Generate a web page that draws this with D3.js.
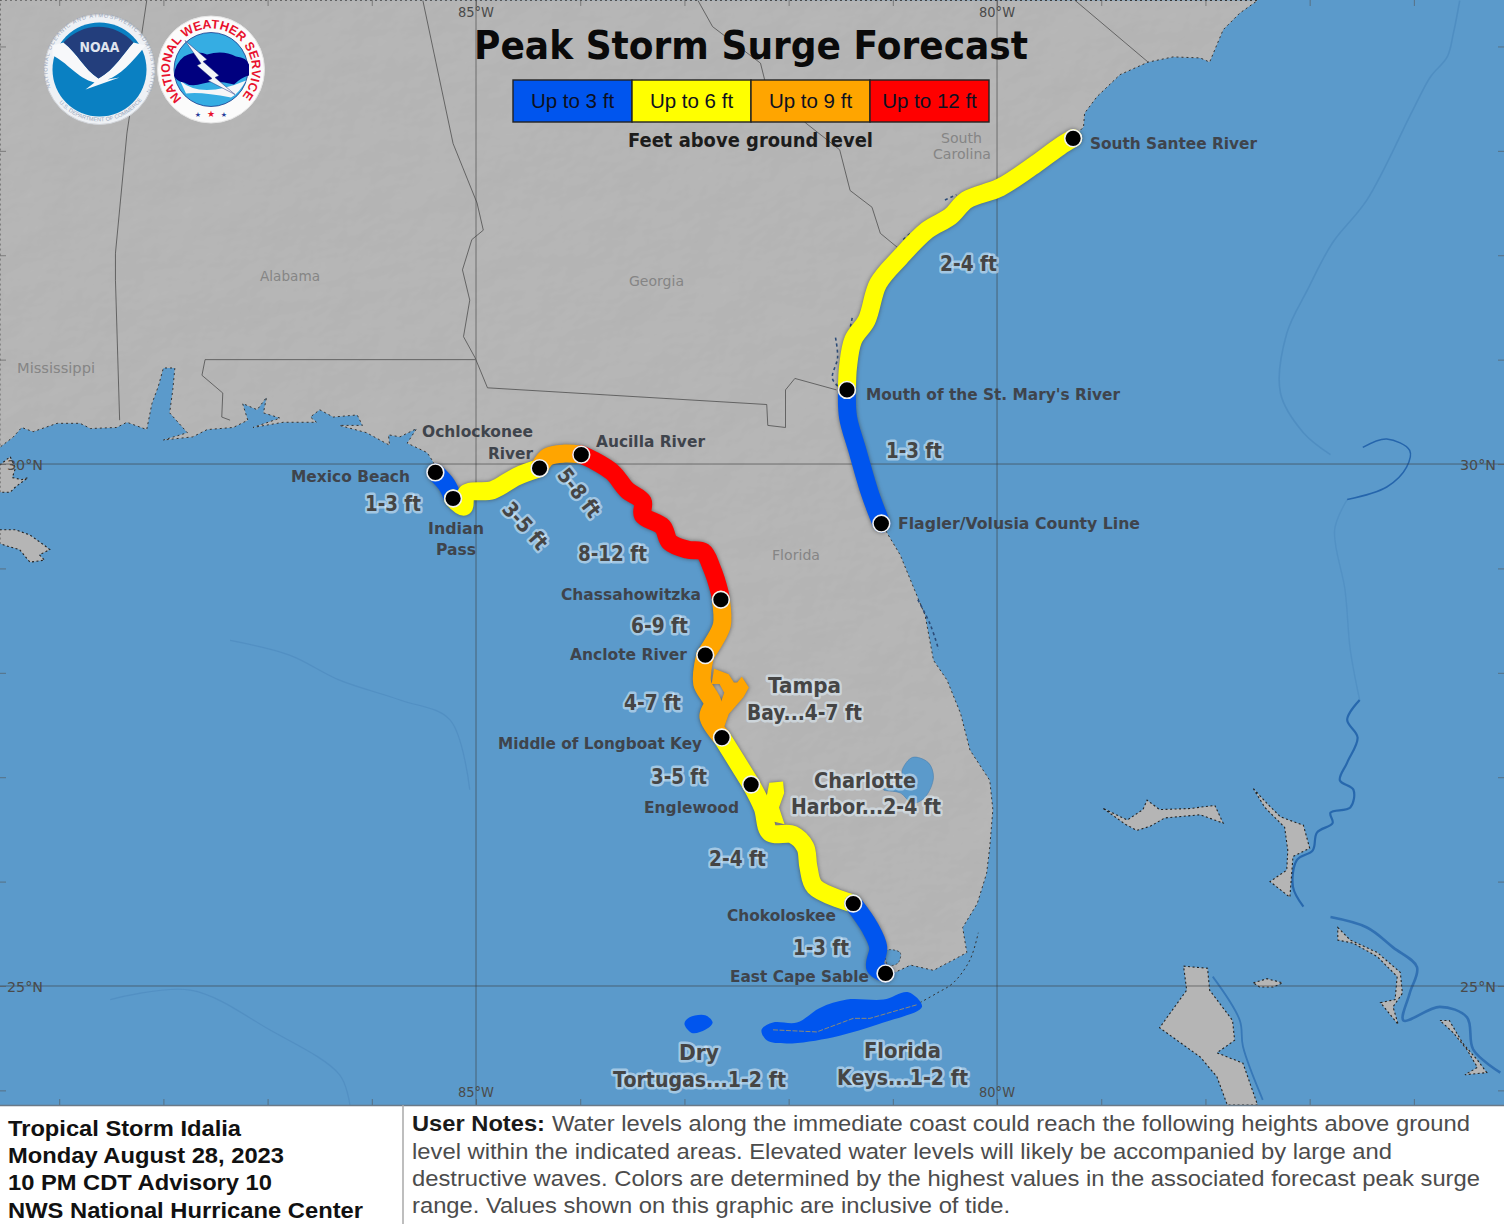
<!DOCTYPE html>
<html><head><meta charset="utf-8">
<script src="https://cdn.jsdelivr.net/npm/d3@7/dist/d3.min.js"></script>
<style>html,body{margin:0;padding:0;background:#fff;overflow:hidden}svg{display:block}</style>
</head><body>
<svg id="c" width="1504" height="1224" xmlns="http://www.w3.org/2000/svg"></svg>
<script>
// ---------- legend categories ----------
const categories = ["Up to 3 ft","Up to 6 ft","Up to 9 ft","Up to 12 ft"];
const categoryColors = ["#0055ee","#ffff00","#ffa500","#ff0000"];
// ---------- surge segments [lon, lat] ----------
const blueEast = [[-81.44,30.71],[-81.43,30.45],[-81.34,30.13],[-81.22,29.72],[-81.11,29.43]];
const yellowEast = [[-81.44,30.71],[-81.43,30.93],[-81.38,31.19],[-81.25,31.38],[-81.14,31.73],[-80.93,31.98],[-80.67,32.24],[-80.45,32.37],[-80.29,32.53],[-79.97,32.65],[-79.62,32.88],[-79.40,33.04],[-79.27,33.12]];
const bluePanhandle = [[-85.39,29.92],[-85.28,29.80],[-85.22,29.67]];
const yellowPanhandle = [[-85.22,29.67],[-85.12,29.59],[-85.09,29.72],[-84.84,29.75],[-84.61,29.88],[-84.39,29.96]];
const orangeBigBend = [[-84.39,29.97],[-84.31,30.07],[-84.15,30.10],[-83.99,30.09]];
const redBigBend = [[-83.99,30.09],[-83.88,30.04],[-83.69,29.92],[-83.55,29.75],[-83.40,29.64],[-83.40,29.51],[-83.21,29.40],[-83.14,29.25],[-82.97,29.18],[-82.82,29.16],[-82.74,29.01],[-82.66,28.76],[-82.65,28.70]];
const orangeNature = [[-82.65,28.70],[-82.64,28.46],[-82.71,28.31],[-82.80,28.17]];
const orangeTampa = [[-82.80,28.17],[-82.83,27.90],[-82.73,27.71],[-82.77,27.58],[-82.64,27.38]];
const yellowSarasota = [[-82.64,27.38],[-82.36,26.93]];
const yellowNaples = [[-82.36,26.93],[-82.25,26.71],[-82.18,26.47],[-81.96,26.45],[-81.84,26.33],[-81.81,26.14],[-81.75,25.95],[-81.38,25.79]];
const blueEverglades = [[-81.38,25.79],[-81.22,25.56],[-81.14,25.37],[-81.17,25.18],[-81.07,25.12]];
const segments = [[blueEast,0],[yellowEast,1],[bluePanhandle,0],[yellowPanhandle,1],[orangeBigBend,2],[redBigBend,3],[orangeNature,2],[orangeTampa,2],[yellowSarasota,1],[yellowNaples,1],[blueEverglades,0]];
// ---------- surge areas ----------
const tampaBay = [[-82.71,28.03],[-82.58,27.98],[-82.53,27.90],[-82.49,27.90],[-82.45,27.95],[-82.39,27.86],[-82.44,27.77],[-82.58,27.61],[-82.63,27.47],[-82.75,27.55],[-82.66,27.67],[-82.61,27.81],[-82.66,27.90],[-82.73,27.90]];
const charlotteHarbor = [[-82.18,26.94],[-82.06,26.95],[-82.05,26.85],[-82.10,26.71],[-82.05,26.56],[-82.18,26.59],[-82.21,26.78]];
const floridaKeys = [[-82.26,24.58],[-82.15,24.65],[-81.92,24.65],[-81.70,24.79],[-81.44,24.87],[-81.09,24.87],[-80.85,24.94],[-80.72,24.80],[-81.09,24.65],[-81.57,24.51],[-82.02,24.45],[-82.21,24.48]];
const dryTortugas = [[-83.00,24.64],[-82.95,24.70],[-82.80,24.72],[-82.73,24.65],[-82.80,24.58],[-82.93,24.55]];
const keysIslands = [[-82.15,24.58],[-81.73,24.56],[-81.38,24.69],[-81.22,24.69],[-80.77,24.82]];
// ---------- breakpoints: location, lon, lat ----------
const breakpoints = [["South Santee River",-79.27,33.12],["Mouth of the St. Mary's River",-81.44,30.71],["Flagler/Volusia County Line",-81.11,29.43],["Mexico Beach",-85.39,29.92],["Indian Pass",-85.22,29.67],["Ochlockonee River",-84.39,29.96],["Aucilla River",-83.99,30.09],["Chassahowitzka",-82.65,28.70],["Anclote River",-82.80,28.17],["Middle of Longboat Key",-82.64,27.38],["Englewood",-82.36,26.93],["Chokoloskee",-81.38,25.79],["East Cape Sable",-81.07,25.12]];
// ---------- coast ----------
const atlanticCoast = [[-77.50,34.44],[-77.67,34.32],[-77.83,34.16],[-77.96,33.85],[-78.05,33.89],[-78.31,33.90],[-78.55,33.85],[-78.82,33.73],[-79.04,33.52],[-79.16,33.36],[-79.17,33.23]];
const floridaEastCoast = [[-80.93,29.13],[-80.79,28.79],[-80.69,28.55],[-80.61,28.12],[-80.48,27.93],[-80.35,27.61],[-80.26,27.26],[-80.07,26.97],[-80.04,26.69],[-80.07,26.33],[-80.10,26.08],[-80.19,25.79],[-80.33,25.56],[-80.29,25.32],[-80.42,25.25],[-80.61,25.15],[-80.83,25.20],[-80.98,25.13]];
const panhandleCoast = [[-85.41,30.02],[-85.47,30.11],[-85.66,30.20],[-85.57,30.34],[-85.73,30.26],[-85.84,30.28],[-85.83,30.18],[-86.05,30.30],[-86.31,30.37],[-86.09,30.37],[-86.14,30.47],[-86.37,30.45],[-86.50,30.52],[-86.59,30.45],[-86.53,30.40],[-86.85,30.40],[-87.14,30.35],[-86.88,30.44],[-87.04,30.49],[-87.01,30.64],[-87.10,30.52],[-87.24,30.58],[-87.19,30.42],[-87.33,30.35],[-87.58,30.33],[-87.72,30.26],[-88.00,30.23],[-87.77,30.30],[-87.94,30.49],[-87.91,30.71],[-87.89,30.92],[-88.00,30.92],[-88.05,30.74],[-88.11,30.58],[-88.16,30.33],[-88.35,30.40],[-88.45,30.35],[-88.70,30.34],[-88.80,30.39],[-89.02,30.39],[-89.25,30.31],[-89.36,30.35],[-89.44,30.26],[-89.57,30.16]];
const lakeOkeechobee = [[-80.91,27.07],[-80.81,27.19],[-80.66,27.14],[-80.61,27.00],[-80.69,26.81],[-80.81,26.75],[-80.93,26.85],[-81.09,26.88],[-80.91,26.95]];
const whitewaterBay = [[-81.06,25.34],[-80.93,25.32],[-80.95,25.22],[-81.05,25.20]];
const upperKeysReef = [[-80.74,24.84],[-80.58,24.93],[-80.42,25.03],[-80.26,25.25],[-80.18,25.51]];
const louisianaMarsh = [[-89.57,29.99],[-89.47,30.07],[-89.42,29.96],[-89.45,29.87],[-89.36,29.85],[-89.30,29.87],[-89.42,29.78],[-89.47,29.73],[-89.57,29.73]];
const mississippiDelta = [[-89.57,29.37],[-89.42,29.37],[-89.28,29.32],[-89.14,29.22],[-89.09,29.18],[-89.19,29.13],[-89.14,29.08],[-89.28,29.06],[-89.38,29.18],[-89.52,29.22],[-89.57,29.24]];
const grandBahama = [[-78.98,26.70],[-78.77,26.55],[-78.66,26.49],[-78.53,26.53],[-78.39,26.61],[-78.05,26.64],[-77.83,26.56],[-77.91,26.73],[-78.15,26.70],[-78.44,26.69],[-78.56,26.78],[-78.60,26.69],[-78.75,26.59]];
const abaco = [[-77.54,26.89],[-77.41,26.75],[-77.28,26.62],[-77.06,26.54],[-77.00,26.32],[-77.16,26.24],[-77.19,25.85],[-77.38,26.00],[-77.22,26.11],[-77.21,26.30],[-77.24,26.52],[-77.43,26.71]];
const andros = [[-78.21,25.19],[-77.98,25.17],[-77.96,24.96],[-77.74,24.67],[-77.72,24.48],[-77.89,24.36],[-77.64,24.26],[-77.50,23.86],[-77.79,23.86],[-77.89,24.13],[-78.05,24.32],[-78.44,24.60],[-78.18,24.96]];
const newProvidence = [[-77.54,25.03],[-77.41,25.07],[-77.26,25.03],[-77.35,24.99],[-77.48,24.99]];
const eleuthera = [[-76.73,25.56],[-76.61,25.44],[-76.35,25.32],[-76.13,25.13],[-76.11,24.93],[-76.20,24.80],[-76.15,24.63],[-76.32,24.84],[-76.18,24.87],[-76.16,25.09],[-76.35,25.28],[-76.58,25.41],[-76.73,25.44]];
const catIsland = [[-75.75,24.67],[-75.66,24.67],[-75.53,24.45],[-75.39,24.29],[-75.30,24.17],[-75.51,24.15],[-75.39,24.22],[-75.49,24.39],[-75.62,24.55]];
const islands = [louisianaMarsh,mississippiDelta,grandBahama,abaco,andros,newProvidence,eleuthera,catIsland];
const marshA = [[-81.55,31.21],[-81.53,31.02],[-81.58,30.82],[-81.51,30.73]];
const marshB = [[-80.90,32.15],[-80.82,32.22]];
const marshC = [[-80.50,32.53],[-80.39,32.58]];
const marshD = [[-81.39,31.40],[-81.42,31.25]];
const indianRiver = [[-80.76,28.70],[-80.64,28.46],[-80.56,28.22]];
const marshes = [marshA,marshB,marshC,marshD,indianRiver];
// ---------- state borders ----------
const msAl = [[-88.16,34.44],[-88.35,33.17],[-88.46,32.02],[-88.46,31.76],[-88.42,30.42]];
const alGa = [[-85.51,34.44],[-85.22,33.07],[-84.99,32.50],[-84.93,32.24],[-85.04,32.15],[-85.13,31.86],[-85.06,31.57],[-85.12,31.22],[-85.01,31.02]];
const alFl = [[-85.01,31.00],[-87.60,31.00],[-87.63,30.85],[-87.43,30.68],[-87.44,30.45],[-87.36,30.42]];
const gaFl = [[-85.01,31.02],[-84.96,30.90],[-84.89,30.73],[-82.21,30.57],[-82.20,30.37],[-82.03,30.35],[-82.03,30.71],[-81.94,30.82],[-81.54,30.71]];
const gaSc = [[-82.87,34.44],[-82.73,34.19],[-82.27,33.84],[-82.23,33.68],[-81.84,33.27],[-81.51,33.01],[-81.41,32.62],[-81.20,32.46],[-81.12,32.21],[-80.95,32.07]];
const ncSc = [[-79.25,34.44],[-78.55,33.85]];
const borders = [msAl,alGa,alFl,gaFl,gaSc,ncSc];
// ---------- bathymetry ----------
const blakeNorth = [[-75.56,34.44],[-75.62,34.13],[-75.68,33.90],[-75.84,33.71],[-76.01,33.39],[-76.45,32.53],[-76.78,32.12],[-77.02,31.67],[-77.22,31.25],[-77.28,30.68],[-77.06,30.30],[-76.80,30.09]];
const blakeSpur = [[-76.49,30.16],[-76.26,30.24],[-76.04,30.13],[-76.07,29.97],[-76.26,29.78],[-76.64,29.66]];
const blakeMiddle = [[-76.64,29.66],[-76.76,29.37],[-76.66,28.79],[-76.61,28.22],[-76.52,27.74]];
const blakeSouth = [[-76.52,27.74],[-76.64,27.55],[-76.54,27.38],[-76.64,27.14],[-76.71,26.97],[-76.58,26.88],[-76.61,26.71],[-76.80,26.66],[-76.78,26.56],[-76.93,26.47],[-76.97,26.30],[-77.12,26.21],[-77.16,25.95],[-77.06,25.76]];
const eleutheraShelf = [[-76.80,25.66],[-76.45,25.56],[-76.20,25.37],[-75.97,25.18],[-76.04,24.93],[-76.10,24.67],[-75.75,24.80],[-75.49,24.70],[-75.43,24.39],[-75.17,24.17]];
const androsShelf = [[-77.93,25.09],[-77.67,24.67],[-77.64,24.42],[-77.45,23.91]];
const gulfEscarpment = [[-87.36,28.31],[-86.79,28.17],[-86.31,27.93],[-85.73,27.74],[-85.25,27.55],[-85.06,26.88]];
const gulfSouth = [[-88.51,24.87],[-87.74,24.96],[-86.98,24.58],[-86.31,24.15],[-86.21,23.86]];
// ---------- axis ticks ----------
const lonTicks = [-89,-88,-87,-86,-85,-84,-83,-82,-81,-80,-79,-78,-77,-76];
const latTicks = [34,33,32,31,30,29,28,27,26,25,24];
const lonLabelled = [-85,-80];
const latLabelled = [30,25];
// ---------- text ----------
const infoLines = ["Tropical Storm Idalia","Monday August 28, 2023","10 PM CDT Advisory 10","NWS National Hurricane Center"];
const noteLines = ["Water levels along the immediate coast could reach the following heights above ground","level within the indicated areas. Elevated water levels will likely be accompanied by large and","destructive waves. Colors are determined by the highest values in the associated forecast peak surge","range. Values shown on this graphic are inclusive of tide."];

// ---------- scales ----------
const W=1504, MAPH=1105;
const x=d3.scaleLinear().domain([-89.568,-75.135]).range([0,W]);
const y=d3.scaleLinear().domain([34.445,23.86]).range([0,MAPH]);
const lin=d3.line().x(d=>x(d[0])).y(d=>y(d[1]));
const smooth=d3.line().x(d=>x(d[0])).y(d=>y(d[1])).curve(d3.curveCatmullRom.alpha(.5));
const blob=d3.line().x(d=>x(d[0])).y(d=>y(d[1])).curve(d3.curveCatmullRomClosed.alpha(.5));

const svg=d3.select("#c");
const defs=svg.append("defs");
defs.append("clipPath").attr("id","mapclip").append("rect").attr("width",W).attr("height",MAPH);
const landOutline=[[-89.568,34.445],...atlanticCoast,...[...yellowEast].reverse(),...blueEast,...floridaEastCoast,...[...blueEverglades].reverse(),...[...yellowNaples].reverse(),...[...yellowSarasota].reverse(),...[...orangeTampa].reverse(),...[...orangeNature].reverse(),...[...redBigBend].reverse(),...[...orangeBigBend].reverse(),...[...yellowPanhandle].reverse(),...[...bluePanhandle].reverse(),...panhandleCoast];
const landD=lin(landOutline)+"Z";
defs.append("clipPath").attr("id","landclip").append("path").attr("d",landD);

const hs=defs.append("filter").attr("id","hill").attr("x",0).attr("y",0).attr("width","100%").attr("height","100%").attr("color-interpolation-filters","sRGB");
hs.append("feTurbulence").attr("type","fractalNoise").attr("baseFrequency","0.016 0.022").attr("numOctaves",4).attr("seed",7).attr("result","n");
const dl=hs.append("feDiffuseLighting").attr("in","n").attr("surfaceScale",.6).attr("lighting-color","#fff").attr("result","l");
dl.append("feDistantLight").attr("azimuth",225).attr("elevation",62);
const ct=hs.append("feComponentTransfer").attr("in","l");
["R","G","B"].forEach(c=>ct.append("feFunc"+c).attr("type","linear").attr("slope",.8).attr("intercept",.01));
const halo=defs.append("filter").attr("id","halo").attr("x","-10%").attr("y","-10%").attr("width","120%").attr("height","120%").attr("color-interpolation-filters","sRGB");
halo.append("feDropShadow").attr("dx",0).attr("dy",0).attr("stdDeviation",2.2).attr("flood-color","#2a2a2a").attr("flood-opacity",.6);

const map=svg.append("g").attr("clip-path","url(#mapclip)");
map.append("rect").attr("width",W).attr("height",MAPH).attr("fill","#5b9acb");
const bathy=map.append("g").attr("fill","none").attr("stroke-linejoin","round");
[[blakeNorth,"#3f7db5",1.6,.4],[blakeSpur,"#1f5fa8",1.5,.9],[blakeMiddle,"#3f7db5",1.4,.3],[blakeSouth,"#1f5fa8",2.2,.85],[eleutheraShelf,"#1f5fa8",2.6,.7],[androsShelf,"#2b6cb0",1.8,.75],[gulfEscarpment,"#4a86bb",1.2,.5],[gulfSouth,"#4a86bb",1.2,.5]].forEach(b=>{
  bathy.append("path").attr("d",smooth(b[0])).attr("stroke",b[1]).attr("stroke-width",b[2]).attr("opacity",b[3]);
});
map.append("path").attr("d",landD).attr("fill","#b5b5b5");
map.append("rect").attr("width",W).attr("height",MAPH).attr("clip-path","url(#landclip)").attr("filter","url(#hill)").attr("opacity",.6);
map.append("path").attr("d",landD).attr("fill","none").attr("stroke","#333").attr("stroke-width",1).attr("stroke-dasharray","2 3");
map.append("path").attr("d",blob(lakeOkeechobee)).attr("fill","#5b9acb").attr("stroke","#4a7fae").attr("stroke-width",.6);
map.append("path").attr("d",blob(whitewaterBay)).attr("fill","#5b9acb").attr("stroke","#333").attr("stroke-width",.7).attr("stroke-dasharray","2 2");
map.append("path").attr("d",smooth(upperKeysReef)).attr("fill","none").attr("stroke","#333").attr("stroke-width",1).attr("stroke-dasharray","2 3");
map.selectAll("path.isl").data(islands).join("path").attr("class","isl").attr("d",d=>lin(d)+"Z").attr("fill","#b5b5b5").attr("stroke","#222").attr("stroke-width",1.1).attr("stroke-dasharray","2 2.5");
map.selectAll("path.mr").data(marshes).join("path").attr("class","mr").attr("d",smooth).attr("fill","none").attr("stroke","#2c4c78").attr("stroke-width",1.6).attr("stroke-dasharray","3 3");
map.selectAll("path.bd").data(borders).join("path").attr("class","bd").attr("d",lin).attr("fill","none").attr("stroke","#4a4a4a").attr("stroke-width",.9).attr("opacity",.85);

const grid=map.append("g").attr("stroke","#3c3c3c").attr("stroke-opacity",.6).attr("stroke-width",1);
grid.selectAll("line.v").data(lonLabelled).join("line").attr("class","v").attr("x1",x).attr("x2",x).attr("y1",0).attr("y2",MAPH);
grid.selectAll("line.h").data(latLabelled).join("line").attr("class","h").attr("y1",y).attr("y2",y).attr("x1",0).attr("x2",W);
const styleAxis=g=>{g.select(".domain").remove();g.selectAll("line").attr("stroke","#555").attr("stroke-opacity",.6);};
map.append("g").call(d3.axisBottom(x).tickValues(lonTicks).tickSize(6).tickFormat("")).call(styleAxis);
map.append("g").attr("transform",`translate(0,${MAPH})`).call(d3.axisTop(x).tickValues(lonTicks).tickSize(6).tickFormat("")).call(styleAxis);
map.append("g").call(d3.axisRight(y).tickValues(latTicks).tickSize(6).tickFormat("")).call(styleAxis);
map.append("g").attr("transform",`translate(${W},0)`).call(d3.axisLeft(y).tickValues(latTicks).tickSize(6).tickFormat("")).call(styleAxis);
const gridLabel=(t,xp,yp)=>map.append("text").attr("x",xp).attr("y",yp).attr("text-anchor","middle").attr("font-family","'DejaVu Sans'").attr("font-size",13.5).attr("fill","#4a4a4a").attr("textLength",t.length*9).attr("lengthAdjust","spacingAndGlyphs").text(t);
lonLabelled.forEach(l=>{const t=Math.abs(l)+"°W";gridLabel(t,x(l),17);gridLabel(t,x(l),1097);});
latLabelled.forEach(l=>{const t=l+"°N";gridLabel(t,25,y(l)+6);gridLabel(t,1478,y(l)+6);});

const surge=map.append("g").attr("filter","url(#halo)");
surge.selectAll("path.seg").data(segments).join("path").attr("class","seg").attr("d",d=>smooth(d[0])).attr("fill","none").attr("stroke",d=>categoryColors[d[1]]).attr("stroke-width",18).attr("stroke-linejoin","round").attr("stroke-linecap","round");
surge.append("path").attr("d",lin(tampaBay)+"Z").attr("fill",categoryColors[2]).attr("stroke",categoryColors[2]).attr("stroke-width",1.5);
surge.append("path").attr("d",lin(charlotteHarbor)+"Z").attr("fill",categoryColors[1]).attr("stroke",categoryColors[1]).attr("stroke-width",1.5);
map.append("path").attr("d",blob(floridaKeys)).attr("fill",categoryColors[0]);
map.append("path").attr("d",blob(dryTortugas)).attr("fill",categoryColors[0]);
map.append("path").attr("d",lin(keysIslands)).attr("fill","none").attr("stroke","#8a8a78").attr("stroke-width",1).attr("stroke-dasharray","5 1.5");
map.selectAll("circle.bp").data(breakpoints).join("circle").attr("class","bp").attr("cx",d=>x(d[1])).attr("cy",d=>y(d[2])).attr("r",8.4).attr("fill","#000").attr("stroke","#f2f2f2").attr("stroke-width",1.6);

function txt(t,x0,x1,base,o){
  const s=map.append("text").attr("x",x0).attr("y",base).attr("font-family",o.font||"'DejaVu Sans'").attr("font-weight",o.weight||"bold").attr("font-size",o.size).attr("fill",o.fill).attr("textLength",x1-x0).attr("lengthAdjust","spacingAndGlyphs").text(t);
  if(o.halo){s.attr("stroke",o.halo).attr("stroke-width",o.hw||4).attr("stroke-linejoin","round").style("paint-order","stroke");}
  return s;
}
const stateO={size:14.5,fill:"#858585",weight:"normal"};
txt("Alabama",260,320,281,stateO);txt("Georgia",629,684,286,stateO);txt("Mississippi",17,95,373,stateO);txt("Florida",772,820,560,stateO);txt("South",941,982,143,stateO);txt("Carolina",933,991,159,stateO);
const placeO={size:15.5,fill:"#3f444c"};
[["South Santee River",1090,1257,149],["Mouth of the St. Mary's River",866,1120,400],["Flagler/Volusia County Line",898,1140,529],["Aucilla River",596,705,447],["Ochlockonee",422,533,437],["River",488,533,459],["Mexico Beach",291,410,482],["Indian",428,484,534],["Pass",436,476,555],["Chassahowitzka",561,701,600],["Anclote River",570,687,660],["Middle of Longboat Key",498,702,749],["Englewood",644,739,813],["Chokoloskee",727,836,921],["East Cape Sable",730,869,982]].forEach(l=>txt(l[0],l[1],l[2],l[3],placeO));
const rangeO={size:21,fill:"#454545",halo:"rgba(225,240,250,.55)",hw:5};
[["2-4 ft",940,997,271],["1-3 ft",886,942,458],["1-3 ft",365,421,511],["8-12 ft",578,647,561],["6-9 ft",631,688,633],["4-7 ft",624,681,710],["3-5 ft",651,707,784],["2-4 ft",709,766,866],["1-3 ft",793,849,955],["Tampa",768,841,693],["Bay...4-7 ft",747,862,720],["Charlotte",814,916,788],["Harbor...2-4 ft",791,941,814],["Dry",679,719,1060],["Tortugas...1-2 ft",613,786,1087],["Florida",864,941,1058],["Keys...1-2 ft",837,968,1085]].forEach(l=>txt(l[0],l[1],l[2],l[3],rangeO));
[["3-5 ft",525,526,48],["5-8 ft",579,493,52]].forEach(l=>{
  map.append("text").attr("transform",`translate(${l[1]},${l[2]}) rotate(${l[3]})`).attr("y",7).attr("text-anchor","middle").attr("font-family","'DejaVu Sans'").attr("font-weight","bold").attr("font-size",21).attr("fill",rangeO.fill).attr("stroke",rangeO.halo).attr("stroke-width",rangeO.hw).attr("stroke-linejoin","round").style("paint-order","stroke").attr("textLength",56).attr("lengthAdjust","spacingAndGlyphs").text(l[0]);
});

txt("Peak Storm Surge Forecast",474,1028,59,{size:39,fill:"#0a0a0a"});
const legX=d3.scaleBand().domain(categories).range([513,989]);
const leg=map.append("g");
leg.selectAll("rect").data(categories).join("rect").attr("x",legX).attr("y",80).attr("width",legX.bandwidth()).attr("height",42).attr("fill",(d,i)=>categoryColors[i]).attr("stroke","#222").attr("stroke-width",1.4);
leg.selectAll("text").data(categories).join("text").attr("x",d=>legX(d)+legX.bandwidth()/2).attr("y",108).attr("text-anchor","middle").attr("font-family","'Liberation Sans'").attr("font-size",20.5).attr("fill","#0d1020").text(d=>d);
txt("Feet above ground level",628,873,147,{size:20,fill:"#1c1c1c"});

// NOAA logo
const noaa=svg.append("g").attr("transform","translate(99.5,69.5)");
noaa.append("circle").attr("r",55).attr("fill","#eef1f5").attr("stroke","#d0d3d8");
defs.append("path").attr("id","noaaTop").attr("d","M-47,22 A52,52 0 1 1 47,22");
defs.append("path").attr("id","noaaBot").attr("d","M-44,28 A52.5,52.5 0 0 0 44,28");
noaa.append("text").attr("font-family","'Liberation Sans'").attr("font-size",5.6).attr("fill","#9aa7bb").append("textPath").attr("href","#noaaTop").attr("startOffset","2%").attr("textLength",205).text("NATIONAL OCEANIC AND ATMOSPHERIC ADMINISTRATION");
noaa.append("text").attr("font-family","'Liberation Sans'").attr("font-size",5.6).attr("fill","#9aa7bb").append("textPath").attr("href","#noaaBot").attr("startOffset","6%").attr("textLength",95).text("U.S. DEPARTMENT OF COMMERCE");
noaa.append("circle").attr("r",47).attr("fill","#0a80c2");
noaa.append("path").attr("d","M-47,-24 L-36,-27 C-22,-16 -15,0 -1,9 C15,0 24,-16 34,-27 L46,-24 C32,-6 20,6 8,10 L20,8 L-14,20 L-5,13 C-22,9 -33,-8 -47,-14 Z").attr("fill","#f7f8fa");
noaa.append("path").attr("d","M-36,-27 A47,47 0 0 1 34,-27 C24,-16 15,0 -1,9 C-15,0 -22,-16 -36,-27 Z").attr("fill","#233e7c");
noaa.append("text").attr("y",-18).attr("text-anchor","middle").attr("font-family","'DejaVu Sans'").attr("font-weight","bold").attr("font-size",13.5).attr("fill","#dfe4ee").attr("textLength",40).attr("lengthAdjust","spacingAndGlyphs").text("NOAA");
// NWS logo
const nws=svg.append("g").attr("transform","translate(211,69.5)");
nws.append("circle").attr("r",53.5).attr("fill","#fbfbfb").attr("stroke","#e4e4e4");
defs.append("path").attr("id","nwsRing").attr("d","M-29,29 A41,41 0 1 1 29,29");
nws.append("text").attr("font-family","'Liberation Sans'").attr("font-weight","bold").attr("font-size",12.5).attr("fill","#e8112d").append("textPath").attr("href","#nwsRing").attr("textLength",190).text("NATIONAL WEATHER SERVICE");
nws.append("circle").attr("r",37).attr("fill","#35ade3").attr("stroke","#1b3a8c").attr("stroke-width",.8);
nws.append("path").attr("d","M-31,11 Q-10,30 35,11 Q28,24 20,28 Q-10,22 -25,24 Z").attr("fill","#f4f6f8");
nws.append("path").attr("d","M-37,6 Q-36,-6 -27,-13 Q-14,-20 -4,-15 Q12,-20 25,-13 Q36,-12 38,-5 L38,6 Q30,8 23,15 Q5,10 -8,14 Q-20,18 -27,13 Q-35,12 -37,6 Z").attr("fill","#00007f");
nws.append("path").attr("d","M-26,-29 L-4,-10 L-8,-8 L8,6 L4,8 L24,25 L-3,11 L1,9 L-14,-4 L-10,-6 Z").attr("fill","#f4f6f8").attr("stroke","#203080").attr("stroke-width",.5);
nws.selectAll("text.star").data([-13,0,13]).join("text").attr("class","star").attr("x",d=>d).attr("y",47).attr("text-anchor","middle").attr("font-family","'DejaVu Sans'").attr("font-size",d=>d?7:9).attr("fill",d=>d?"#2a3f9e":"#e8112d").text("★");

svg.append("rect").attr("x",0).attr("y",MAPH).attr("width",W).attr("height",1224-MAPH).attr("fill","#fff");
svg.append("line").attr("x1",0).attr("x2",W).attr("y1",MAPH+.5).attr("y2",MAPH+.5).attr("stroke","#6a7a88").attr("stroke-width",1.5);
svg.append("line").attr("x1",403).attr("x2",403).attr("y1",MAPH).attr("y2",1224).attr("stroke","#a8a8a8").attr("stroke-width",1.5);
const infoEnds=[241,284,272,363], infoBase=[1136,1163,1190,1218];
svg.selectAll("text.info").data(infoLines).join("text").attr("class","info").attr("x",8).attr("y",(d,i)=>infoBase[i]).attr("font-family","'Liberation Sans'").attr("font-weight","bold").attr("font-size",22).attr("fill","#111").attr("textLength",(d,i)=>infoEnds[i]-8).attr("lengthAdjust","spacingAndGlyphs").text(d=>d);
const noteBase=[1131,1159,1186,1213], noteX=[552,412,412,412], noteEnds=[1470,1392,1480,1010];
svg.append("text").attr("x",412).attr("y",noteBase[0]).attr("font-family","'Liberation Sans'").attr("font-weight","bold").attr("font-size",21.5).attr("fill","#1a1a1a").attr("textLength",133).attr("lengthAdjust","spacingAndGlyphs").text("User Notes:");
svg.selectAll("text.note").data(noteLines).join("text").attr("class","note").attr("x",(d,i)=>noteX[i]).attr("y",(d,i)=>noteBase[i]).attr("font-family","'Liberation Sans'").attr("font-size",21.5).attr("fill","#4c4c4c").attr("textLength",(d,i)=>noteEnds[i]-noteX[i]).attr("lengthAdjust","spacingAndGlyphs").text(d=>d);
</script>
</body></html>
